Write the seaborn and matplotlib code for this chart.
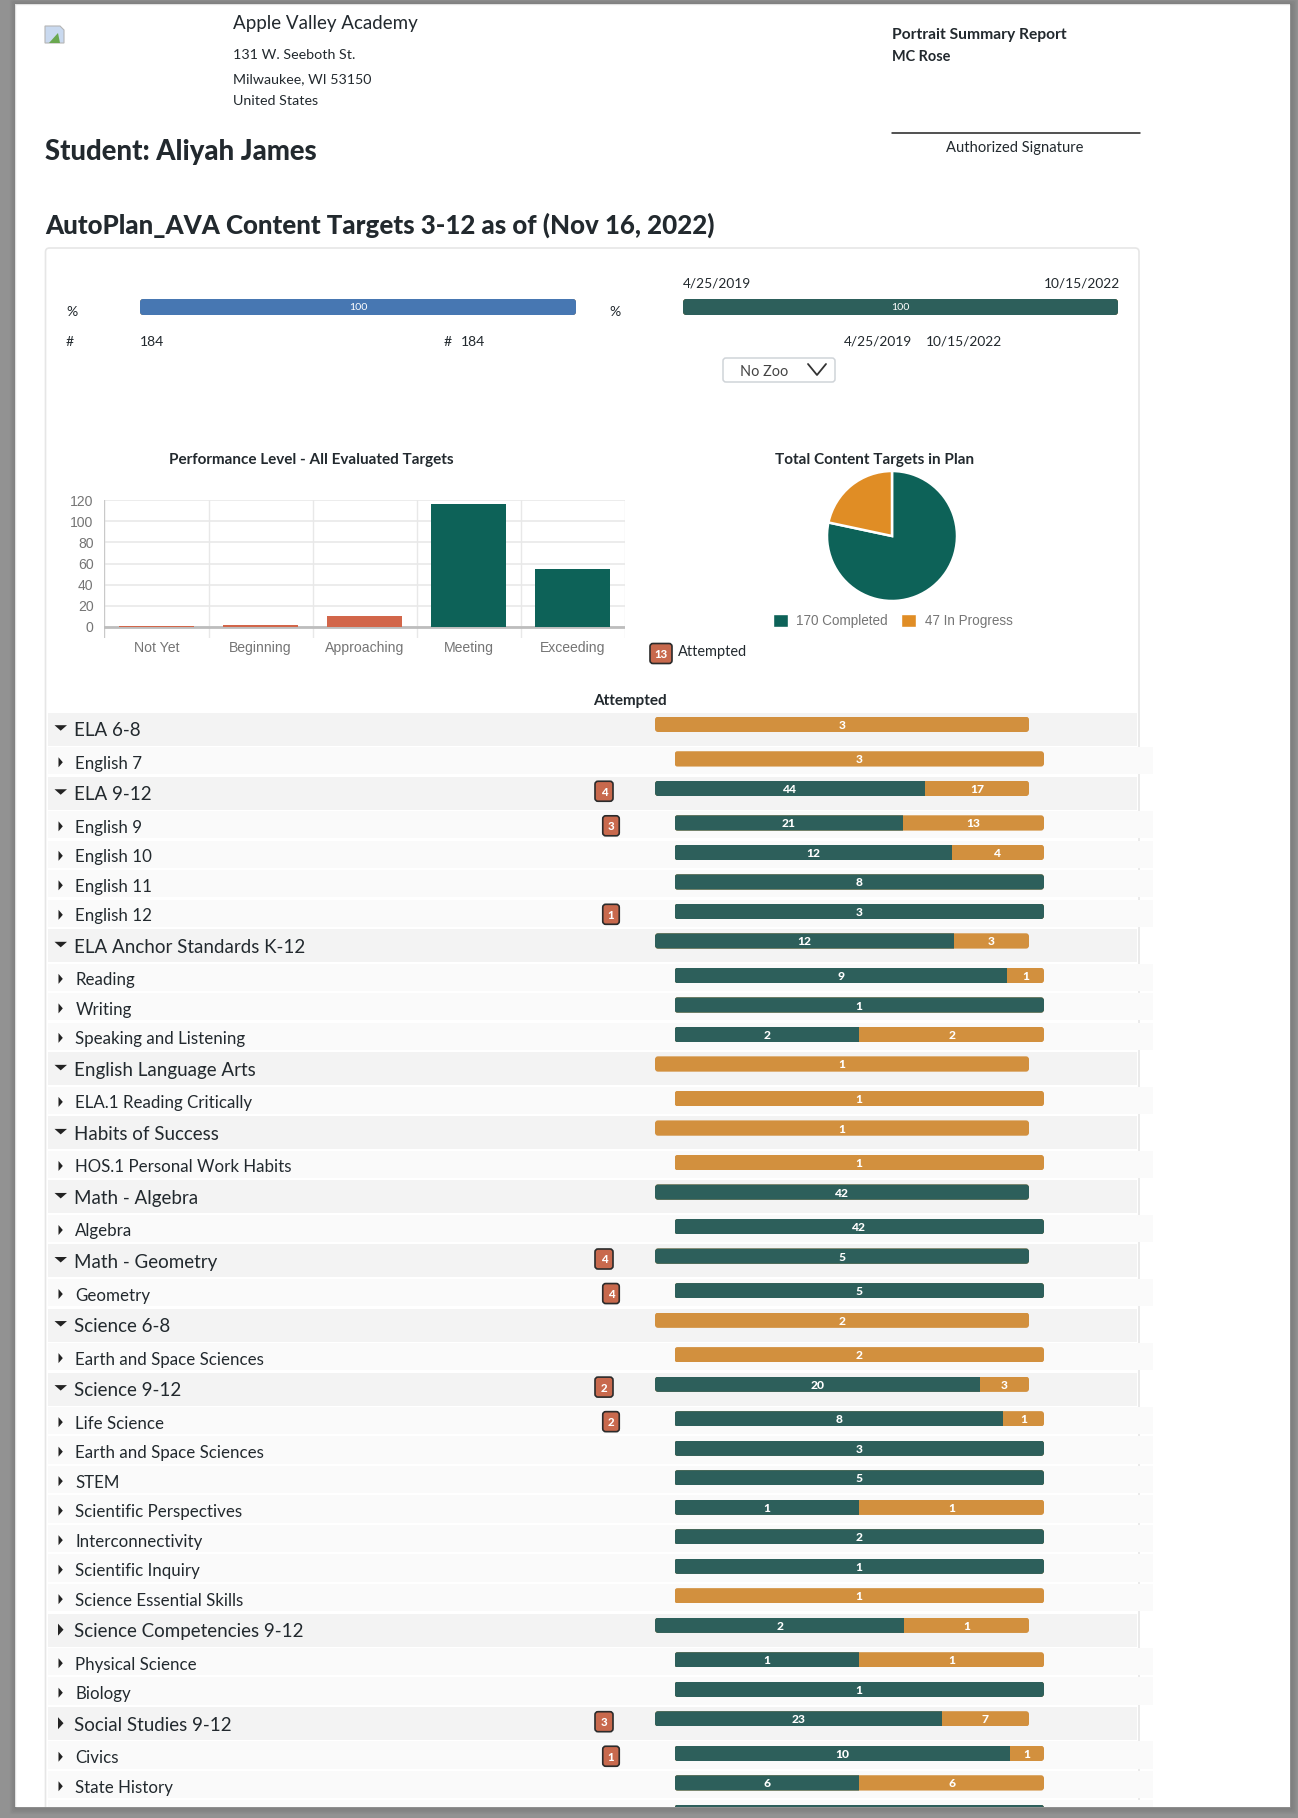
import matplotlib
matplotlib.use("Agg")
import matplotlib.pyplot as plt
from matplotlib.patches import FancyBboxPatch, Rectangle, Polygon
import seaborn as sns

W, H = 1298, 1818
TEAL, ORANGE = "#2d5f5b", "#d2903e"
PIE_TEAL, PIE_ORANGE = "#0d6258", "#e08d25"
BADGE = "#c8694d"
INK = "#22292e"
CHART_GREY = "#757575"

# Performance level counts
levels = ["Not Yet", "Beginning", "Approaching", "Meeting", "Exceeding"]
level_counts = [1, 2, 10, 116, 55]
level_colors = ["#d2664a", "#d2664a", "#d2664a", "#0d6258", "#0d6258"]
y_ticks = [0, 20, 40, 60, 80, 100, 120]

# Plan totals
pie_labels = ["Completed", "In Progress"]
pie_values = [170, 47]

# Report rows, in reading order
row_names = [
    "ELA 6-8", "English 7", "ELA 9-12", "English 9", "English 10", "English 11",
    "English 12", "ELA Anchor Standards K-12", "Reading", "Writing",
    "Speaking and Listening", "English Language Arts", "ELA.1 Reading Critically",
    "Habits of Success", "HOS.1 Personal Work Habits", "Math - Algebra", "Algebra",
    "Math - Geometry", "Geometry", "Science 6-8", "Earth and Space Sciences",
    "Science 9-12", "Life Science", "Earth and Space Sciences", "STEM",
    "Scientific Perspectives", "Interconnectivity", "Scientific Inquiry",
    "Science Essential Skills", "Science Competencies 9-12", "Physical Science",
    "Biology", "Social Studies 9-12", "Civics", "State History", "",
]
row_is_group = [1, 0, 1, 0, 0, 0, 0, 1, 0, 0, 0, 1, 0, 1, 0, 1, 0, 1, 0, 1, 0, 1,
                0, 0, 0, 0, 0, 0, 0, 1, 0, 0, 1, 0, 0, 0]
row_collapsed = ["Science Competencies 9-12", "Social Studies 9-12"]
row_completed = [0, 0, 44, 21, 12, 8, 3, 12, 9, 1, 2, 0, 0, 0, 0, 42, 42, 5, 5, 0, 0,
                 20, 8, 3, 5, 1, 2, 1, 0, 2, 1, 1, 23, 10, 6, 1]
row_in_progress = [3, 3, 17, 13, 4, 0, 0, 3, 1, 0, 2, 1, 1, 1, 1, 0, 0, 0, 0, 2, 2,
                   3, 1, 0, 0, 1, 0, 0, 1, 1, 1, 0, 7, 1, 6, 0]
row_attempted = [0, 0, 4, 3, 0, 0, 1, 0, 0, 0, 0, 0, 0, 0, 0, 0, 0, 4, 4, 0, 0,
                 2, 2, 0, 0, 0, 0, 0, 0, 0, 0, 0, 3, 1, 0, 0]

sns.set_theme(style="white")
plt.rcParams["font.family"] = ["Lato", "DejaVu Sans"]

fig = plt.figure(figsize=(W / 100, H / 100), dpi=100, facecolor="white")


def px_axes(x0, y0, x1, y1, **kw):
    return fig.add_axes([x0 / W, 1 - y1 / H, (x1 - x0) / W, (y1 - y0) / H], **kw)


def px(size):
    return size * 0.72


page = px_axes(0, 0, W, H)
page.set_xlim(0, W)
page.set_ylim(H, 0)
page.axis("off")


def note(x, y, s, size=14.5, weight="normal", color=INK, ha="left", **kw):
    page.text(x, y, s, fontsize=px(size), fontweight=weight, color=color, ha=ha,
              va="baseline", **kw)


def rounded(x, y, w, h, r, **kw):
    patch = FancyBboxPatch((x, y), w, h, boxstyle=f"round,pad=0,rounding_size={r}",
                           transform=page.transData, **kw)
    return patch


def stacked_bar(x0, y0, x1, y1, first, second, first_color=TEAL, second_color=ORANGE,
                label_size=12, weight="black"):
    """Horizontal bar with two stacked segments and rounded ends."""
    total = first + second
    ax = px_axes(x0, y0, x1, y1)
    ax.patch.set_alpha(0)
    sns.barplot(x=[total], y=[""], color=second_color, width=1, saturation=1,
                orient="h", ax=ax)
    if first:
        sns.barplot(x=[first], y=[""], color=first_color, width=1, saturation=1,
                    orient="h", ax=ax)
    ax.set_xlim(0, total)
    ax.set_ylim(0.5, -0.5)
    ax.axis("off")
    clip = rounded(x0, y0, x1 - x0, y1 - y0, 3)
    for bar in ax.patches:
        bar.set_edgecolor("none")
        bar.set_clip_path(clip)
    for start, value in ((0, first), (first, second)):
        if value:
            ax.text(start + value / 2, 0, str(value), color="white", ha="center",
                    va="center_baseline", fontsize=px(label_size), fontweight=weight,
                    clip_on=False)
    return ax


# Letterhead
page.add_patch(Polygon([(45, 26), (60, 26), (64, 30), (64, 43), (45, 43)],
                       closed=True, fc="#c9d9ef", ec="#b5b5b5", lw=0.8))
page.add_patch(Polygon([(49, 43), (58, 33), (60, 43)], closed=True, fc="#6aa84f", ec="none"))
note(233, 29, "Apple Valley Academy", 18.8)
note(233, 59, "131 W. Seeboth St.", 14.3)
note(233, 83, "Milwaukee, WI 53150", 14.1)
note(233, 105, "United States", 14.3)
note(892, 39, "Portrait Summary Report", 15.6, "bold")
note(892, 61, "MC Rose", 14.5, "bold")
page.plot([892, 1140], [133, 133], color="#222222", lw=1.1)
note(1015, 152, "Authorized Signature", 14.8, ha="center")
note(45, 160, "Student: Aliyah James", 27.5, "black")
note(45, 234, "AutoPlan_AVA Content Targets 3-12 as of (Nov 16, 2022)", 25.9, "black")

# Panel frame
page.add_patch(rounded(45.5, 248, 1093.5, 1600, 4, fc="white", ec="#e6e6e6", lw=1.2))

# Progress summary
note(683, 287, "4/25/2019", 13.7)
note(1120, 287, "10/15/2022", 13.7, ha="right")
note(66, 316, "%", 14)
note(609, 316, "%", 14)
stacked_bar(140, 299, 576, 315, 100, 0, first_color="#4777b2", label_size=10.5, weight="normal")
stacked_bar(683, 299, 1118, 315, 100, 0, label_size=10.5, weight="normal")
note(66, 346, "#", 14)
note(140, 346, "184", 14)
note(444, 346, "#", 14)
note(461, 346, "184", 14)
note(844, 346, "4/25/2019", 13.7)
note(926, 346, "10/15/2022", 13.7)
page.add_patch(rounded(723, 358, 112, 24, 3, fc="white", ec="#cfd4d8", lw=1.1))
note(740, 376, "No Zoo", 14.5, color="#444444")
page.plot([808, 817, 826], [364, 375, 364], color="#333333", lw=1.3)

# Performance level chart
note(311.5, 464, "Performance Level - All Evaluated Targets", 15.3, "bold", ha="center")
bar_ax = px_axes(104.5, 500, 625, 638)
sns.barplot(x=levels, y=level_counts, hue=levels, palette=level_colors, legend=False,
            width=0.72, saturation=1, ax=bar_ax)
bar_ax.set_xlim(-0.5, 4.5)
bar_ax.set_ylim(-120 * 11 / 127, 120)
bar_ax.set_yticks(y_ticks)
bar_ax.grid(False)
bar_ax.grid(axis="y", color="#ececec", lw=1.4, zorder=0)
bar_ax.set_axisbelow(True)
for boundary in [i + 0.5 for i in range(-1, 5)]:
    bar_ax.axvline(boundary, color="#e8e8e8", lw=1.0, zorder=0.6)
bar_ax.axvline(-0.5, color="#c9c9c9", lw=1.6, zorder=0.7)
bar_ax.axhline(0, color="#bdbdbd", lw=2.0, zorder=0.8)
for spine in bar_ax.spines.values():
    spine.set_visible(False)
chart_font = ["Liberation Sans", "DejaVu Sans"]
bar_ax.tick_params(axis="y", length=0, pad=8, labelsize=px(14), labelcolor=CHART_GREY)
bar_ax.tick_params(axis="x", which="major", length=0, pad=2, labelsize=px(14), labelcolor=CHART_GREY)
bar_ax.set_xlabel("")
bar_ax.set_ylabel("")
for tick in bar_ax.get_xticklabels() + bar_ax.get_yticklabels():
    tick.set_family(chart_font)
for bar in bar_ax.patches:
    bar.set_edgecolor("none")

# Plan totals pie
note(874.5, 464, "Total Content Targets in Plan", 15.2, "bold", ha="center")
pie_ax = px_axes(827, 471, 957, 601)
pie_ax.patch.set_alpha(0)
pie_ax.pie(pie_values, colors=[PIE_TEAL, PIE_ORANGE], startangle=90, counterclock=False,
           radius=1, wedgeprops={"edgecolor": "white", "linewidth": 1.8})
pie_ax.set_xlim(-1, 1)
pie_ax.set_ylim(-1, 1)
legend_handles = [Rectangle((0, 0), 1, 1, fc=PIE_TEAL), Rectangle((0, 0), 1, 1, fc=PIE_ORANGE)]
legend_text = [f"{v} {n}" for v, n in zip(pie_values, pie_labels)]
page.legend(legend_handles, legend_text, loc="center left", ncols=2, frameon=False,
            bbox_to_anchor=(760.5 / W, 1 - 621 / H), bbox_transform=fig.transFigure,
            handlelength=1.1, handleheight=1.1, handletextpad=0.65, columnspacing=1.0,
            labelcolor=CHART_GREY, prop={"family": chart_font, "size": px(13.5)})

# Attempted key and column heading
page.add_patch(rounded(650, 643.5, 22, 20, 3, fc=BADGE, ec="#2b2b2b", lw=1.2))
page.text(661, 653.5, "13", color="white", ha="center", va="center_baseline",
          fontsize=px(11.5), fontweight="black")
note(678, 656, "Attempted", 14.5)
note(629.5, 705, "Attempted", 15.2, "bold", ha="center")

# Report rows
top = 716.7
for name, is_group, done, pending, attempted in zip(row_names, row_is_group, row_completed,
                                                    row_in_progress, row_attempted):
    if is_group:
        page.add_patch(Rectangle((48, top - 4), 1088.6, 33, fc="#f3f3f3", ec="none"))
        x0, x1 = 655, 1029
        badge_x = 604
        size, baseline = 18.8, 19.5
    else:
        page.add_patch(Rectangle((48, top - 4.3), 1105, 27.3, fc="#fafafa", ec="none"))
        x0, x1 = 674.5, 1044
        badge_x = 611
        size, baseline = 16.9, 17.5
    stacked_bar(x0, top, x1, top + 15.3, done, pending)
    note(74.5 if is_group else 75.3, top + baseline, name, size)
    if name:
        if is_group and name not in row_collapsed:
            page.add_patch(Polygon([(54.5, top + 8.5), (67, top + 8.5), (60.7, top + 14)],
                                   closed=True, fc="#222222", ec="none"))
        elif is_group:
            page.add_patch(Polygon([(58, top + 6), (63.5, top + 12), (58, top + 18)],
                                   closed=True, fc="#222222", ec="none"))
        else:
            page.add_patch(Polygon([(58.5, top + 6), (62.8, top + 11), (58.5, top + 16)],
                                   closed=True, fc="#222222", ec="none"))
    if attempted:
        bw = 18 if is_group else 16.5
        page.add_patch(rounded(badge_x - bw / 2, top + 0.5, bw, 20, 3, fc=BADGE,
                               ec="#2b2b2b", lw=1.2))
        page.text(badge_x, top + 10.5, str(attempted), color="white", ha="center",
                  va="center_baseline", fontsize=px(11.5), fontweight="black")
    top += 34.55 if is_group else 29.5

# Window margins around the sheet, drawn over everything that runs off it
edge = px_axes(0, 0, W, H, zorder=20)
edge.set_xlim(0, W)
edge.set_ylim(H, 0)
edge.axis("off")
edge.patch.set_alpha(0)
GREY = "#929292"
edge.add_patch(Rectangle((0, 0), W, 4, fc=GREY, ec="none"))
edge.add_patch(Rectangle((0, 0), 15, H, fc=GREY, ec="none"))
edge.add_patch(Rectangle((1290, 0), 8, H, fc=GREY, ec="none"))
edge.add_patch(Rectangle((0, 1807), W, 11, fc=GREY, ec="none"))
# Soft drop shadow hugging the sheet
for grow, alpha in zip([1, 2, 3, 4, 5, 6], [0.10, 0.08, 0.06, 0.05, 0.03, 0.02]):
    edge.add_patch(Rectangle((15 - grow + 0.5, 4 - grow + 0.5), 1275 + 2 * grow - 1,
                             1803 + 2 * grow - 1, fill=False, ec="black", alpha=alpha, lw=1))

fig.savefig("out.png", dpi=100)
